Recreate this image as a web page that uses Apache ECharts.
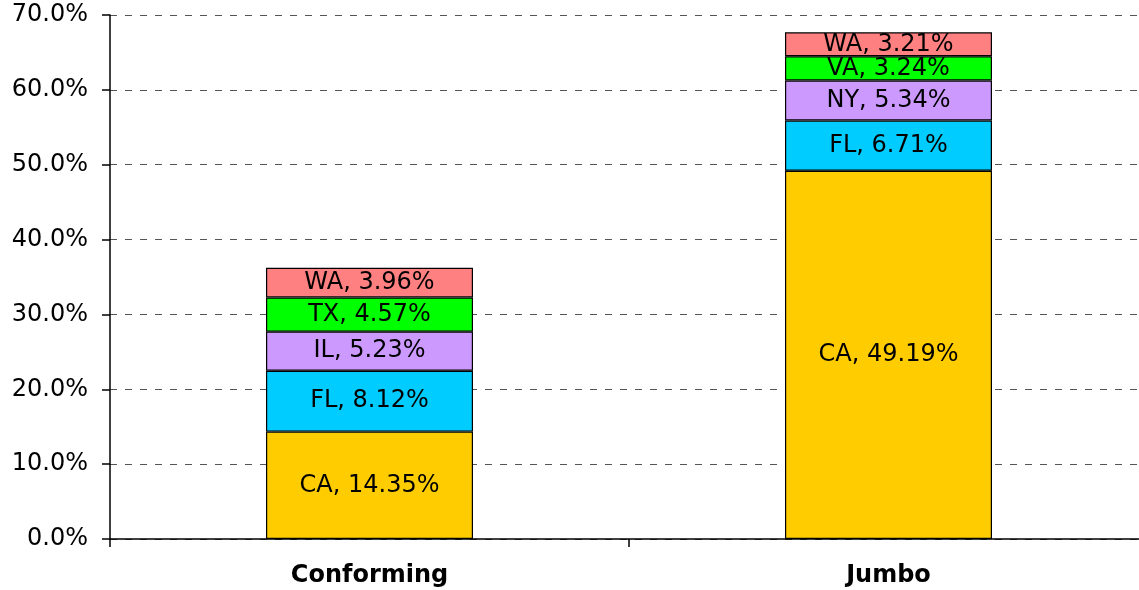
<!DOCTYPE html>
<html><head><meta charset="utf-8">
<script src="https://cdn.jsdelivr.net/npm/echarts@6/dist/echarts.min.js"></script>
<style>html,body{margin:0;padding:0;background:#fff;overflow:hidden;width:1139px;height:590px}#c{width:1148px;height:590px}</style>
</head><body><div id="c"></div>
<script>
const categories = ['Conforming', 'Jumbo'];
// stack layers from bottom to top; each layer has state names and values per category
const layerNames = [
  ['CA', 'CA'],
  ['FL', 'FL'],
  ['IL', 'NY'],
  ['TX', 'VA'],
  ['WA', 'WA']
];
const layerValues = [
  [14.35, 49.19],
  [8.12, 6.71],
  [5.23, 5.34],
  [4.57, 3.24],
  [3.96, 3.21]
];
const layerColors = ['#FFCC00', '#00CCFF', '#CC99FF', '#00FF00', '#FF8080'];
const yTicks = [0, 10, 20, 30, 40, 50, 60, 70];

const FONT = 'DejaVu Sans';
const chart = echarts.init(document.getElementById('c'), null, {renderer: 'canvas'});
const series = layerValues.map((vals, i) => ({
  type: 'bar',
  stack: 'total',
  barWidth: 207,
  data: vals,
  itemStyle: {color: layerColors[i], borderColor: '#000', borderWidth: 1.2},
  label: {
    show: true,
    position: 'inside',
    color: '#000',
    fontFamily: FONT,
    fontSize: 24,
    formatter: p => layerNames[i][p.dataIndex] + ', ' + p.value.toFixed(2) + '%'
  },
  emphasis: {disabled: true}
}));
chart.setOption({
  animation: false,
  backgroundColor: '#fff',
  grid: {left: 110, top: 15, bottom: 51, right: 0, containLabel: false},
  xAxis: {
    type: 'category',
    data: categories,
    axisLine: {lineStyle: {color: '#000', width: 1.5}},
    axisTick: {show: true, length: 8, lineStyle: {color: '#000', width: 1.5}},
    axisLabel: {color: '#000', fontFamily: FONT, fontWeight: 'bold', fontSize: 24, margin: 25}
  },
  yAxis: {
    type: 'value',
    min: yTicks[0],
    max: yTicks[yTicks.length - 1],
    interval: 10,
    axisLine: {show: true, lineStyle: {color: '#000', width: 1.5}},
    axisTick: {show: true, length: 8, lineStyle: {color: '#000', width: 1.5}},
    axisLabel: {color: '#000', fontFamily: FONT, fontSize: 24, margin: 22, formatter: v => v.toFixed(1) + '%'},
    splitLine: {show: true, lineStyle: {color: '#555', type: [7, 8], width: 1}}
  },
  series: series
});
</script></body></html>
